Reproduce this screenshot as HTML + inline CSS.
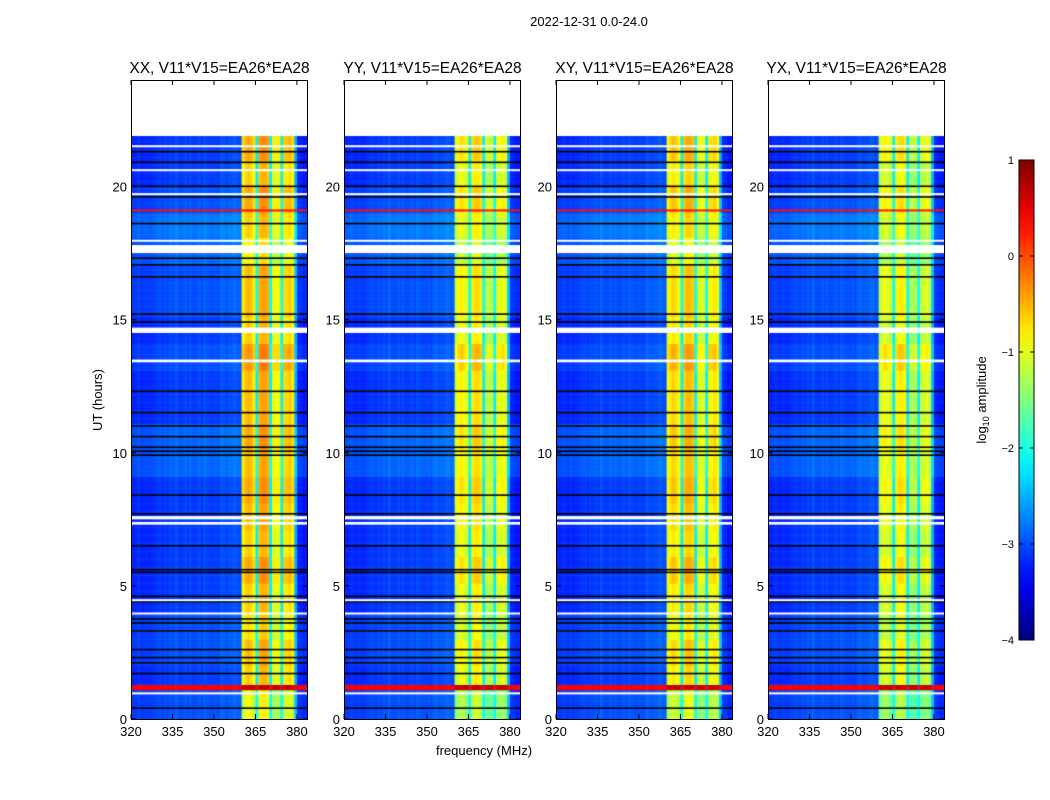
<!DOCTYPE html>
<html><head><meta charset="utf-8">
<style>
body{margin:0;background:#fff;font-family:"Liberation Sans",sans-serif;}
#wrap{position:relative;width:1050px;height:800px;overflow:hidden;background:#fff;}
canvas{position:absolute;}
svg{position:absolute;left:0;top:0;}
</style></head>
<body>
<div id="wrap">
<svg id="ax" width="1050" height="800"></svg>
</div>
<script>
// ---- data ----
const panelTitles = ["XX, V11*V15=EA26*EA28","YY, V11*V15=EA26*EA28","XY, V11*V15=EA26*EA28","YX, V11*V15=EA26*EA28"];
const panelOffsets = [-0.1, -0.4, -0.25, -0.5];
// log10 amplitude per 1 MHz channel, 320..384 MHz
const freqProfile = [-3.2,-3.2,-3.15,-3.2,-3.2,-3.15,-3.2,-3.2,-3.15,-3.1,
 -3.1,-3.15,-3.1,-3.1,-3.05,-3.1,-3.0,-3.1,-3.1,-3.05,
 -3.1,-3.05,-3.1,-3.1,-3.05,-3.1,-3.0,-3.05,-3.1,-3.1,
 -3.05,-3.1,-3.0,-3.0,-3.05,-3.0,-3.0,-2.95,-3.0,-3.0,
 -0.9,-0.7,-0.6,-0.7,-0.9,-2.2,-0.6,-0.5,-0.5,-0.6,
 -2.2,-1.0,-1.0,-1.0,-2.2,-0.8,-0.8,-0.7,-0.9,-2.5,
 -3.2,-3.2,-3.3,-3.3];
const rfiStart = 360, rfiEnd = 380;
// hourly modulation (hours 0..23)
const bandMod = [-0.2,0.1,0.2,0.0,0.1,0.3,0.1,0.2,0.3,0.2,0.3,0.2,0.2,0.4,0.1,0.2,0.2,-0.1,0.1,0.3,0.1,0.3,0.0,0.0];
const bgMod = [0.1,0.0,0.1,0.1,0.0,0.0,0.0,0.0,0.0,0.2,0.2,0.0,0.0,0.1,0.0,0.1,0.1,0.2,0.3,0.1,0.0,0.0,0.0,0.0];
const dataEnd = 21.9;
const whiteGaps = [[17.5,17.8],[14.5,14.7],[13.4,13.5],[7.5,7.62],[7.3,7.4],[21.5,21.55],[19.7,19.75],[20.6,20.65],[17.95,18.0],[4.45,4.5],[3.95,4.0],[0.95,1.0]];
const blackLines = [21.3,20.9,20.0,19.6,18.6,17.3,17.05,16.6,15.2,14.9,12.3,11.5,11.0,10.6,10.2,10.05,9.9,8.4,7.7,6.5,5.6,5.5,4.6,4.4,3.75,3.6,3.3,2.6,2.3,2.1,1.7,0.4];
const redBand = [1.0,1.3];
const redLine = 19.1;
const xTicks = [320,335,350,365,380];
const yTicks = [0,5,10,15,20];
const cbTicks = [1,0,-1,-2,-3,-4];

// ---- layout ----
const panelX = [131,344,556,768], PW=177, PT=80, PB=719;
const xScale = f => (f-320)/(384-320)*PW;
const yScale = h => PB - h/24*(PB-PT);
function jet(v){ // v in [-4,1]
  let t=(v+4)/5; t=Math.max(0,Math.min(1,t));
  const c=x=>Math.max(0,Math.min(1,x));
  const r=c(1.5-Math.abs(4*t-3)), g=c(1.5-Math.abs(4*t-2)), b=c(1.5-Math.abs(4*t-1));
  return `rgb(${r*255|0},${g*255|0},${b*255|0})`;
}
const wrap=document.getElementById('wrap');
const svg=document.getElementById('ax');
const NS="http://www.w3.org/2000/svg";
function mk(tag,attrs,parent){const e=document.createElementNS(NS,tag);for(const k in attrs)e.setAttribute(k,attrs[k]);(parent||svg).appendChild(e);return e;}

panelTitles.forEach((title,p)=>{
  const cv=document.createElement('canvas');
  cv.width=PW;cv.height=PB-PT;cv.style.left=panelX[p]+'px';cv.style.top=PT+'px';
  
  
  wrap.insertBefore(cv,svg);
  const ctx=cv.getContext('2d');
  const dt=0.1;
  for(let t=0;t<dataEnd;t+=dt){
    const hr=Math.floor(t);
    for(let i=0;i<freqProfile.length;i++){
      const f=320+i;
      const inBand=f>=rfiStart&&f<rfiEnd&&freqProfile[i]>-2;
      let v=freqProfile[i]+(inBand?bandMod[hr]+panelOffsets[p]:bgMod[hr]);
      if(t>=redBand[0]&&t<redBand[1]) v=inBand?0.7:0.4;
      ctx.fillStyle=jet(v);
      const x0=xScale(f),x1=xScale(f+1),y0=yScale(t+dt)-PT,y1=yScale(t)-PT;
      ctx.fillRect(x0,y0,x1-x0+0.5,y1-y0+0.5);
    }
  }
  ctx.fillStyle=jet(0.3);
  ctx.fillRect(0,yScale(redLine)-PT-1,PW,2);
  ctx.fillStyle='#000';
  blackLines.forEach(h=>ctx.fillRect(0,yScale(h)-PT-1,PW,1.6));
  ctx.fillStyle='#fff';
  whiteGaps.forEach(g=>{const y0=yScale(g[1])-PT,y1=yScale(g[0])-PT;ctx.fillRect(0,y0,PW,Math.max(2,y1-y0));});
  ctx.fillRect(0,0,PW,yScale(dataEnd)-PT);

  const x0=panelX[p];
  mk('rect',{x:x0+0.5,y:PT+0.5,width:PW-1,height:PB-PT,fill:'none',stroke:'#000','stroke-width':1,});
  const tt=mk('text',{x:x0+PW/2,y:73,'font-size':15.5,'text-anchor':'middle',});tt.textContent=title;
  xTicks.forEach(f=>{const x=x0+xScale(f);
    mk('line',{x1:x,x2:x,y1:PB,y2:PB-5,stroke:'#000'});mk('line',{x1:x,x2:x,y1:PT,y2:PT+5,stroke:'#000'});
    const t=mk('text',{x:x,y:PB+17,'font-size':13,'text-anchor':'middle',});t.textContent=f;});
  yTicks.forEach(h=>{const y=yScale(h);
    mk('line',{x1:x0,x2:x0+5,y1:y,y2:y,stroke:'#000'});mk('line',{x1:x0+PW,x2:x0+PW-5,y1:y,y2:y,stroke:'#000'});
    const t=mk('text',{x:x0-4,y:y+5,'font-size':13,'text-anchor':'end',});t.textContent=h;});
});
let t;
t=mk('text',{x:589,y:26,'font-size':13,'text-anchor':'middle',});t.textContent='2022-12-31 0.0-24.0';
t=mk('text',{x:484,y:755,'font-size':13,'text-anchor':'middle',});t.textContent='frequency (MHz)';
t=mk('text',{x:0,y:0,'font-size':13,'text-anchor':'middle',transform:'translate(102,400) rotate(-90)',});t.textContent='UT (hours)';

// colorbar
const cbX=1019,cbW=15,cbT=160,cbB=640;
const g=mk('defs',{});const lg=mk('linearGradient',{id:'jetg',x1:0,y1:1,x2:0,y2:0},g);
for(let i=0;i<=20;i++){mk('stop',{offset:i/20,'stop-color':jet(-4+5*i/20)},lg);}
mk('rect',{x:cbX,y:cbT,width:cbW,height:cbB-cbT,fill:'url(#jetg)',stroke:'#000',});
cbTicks.forEach(v=>{const y=cbB-(v+4)/5*(cbB-cbT);
  mk('line',{x1:cbX,x2:cbX+4,y1:y,y2:y,stroke:'#000'});mk('line',{x1:cbX+cbW,x2:cbX+cbW-4,y1:y,y2:y,stroke:'#000'});
  const tx=mk('text',{x:cbX-5,y:y+4,'font-size':11,'text-anchor':'end',});tx.textContent=v<0?'\u2212'+(-v):v;});
t=mk('text',{x:0,y:0,'font-size':13,'text-anchor':'middle',transform:'translate(986,400) rotate(-90)',});
t.innerHTML='log<tspan font-size="9" dy="3">10</tspan><tspan dy="-3"> amplitude</tspan>';
</script>
</body></html>
